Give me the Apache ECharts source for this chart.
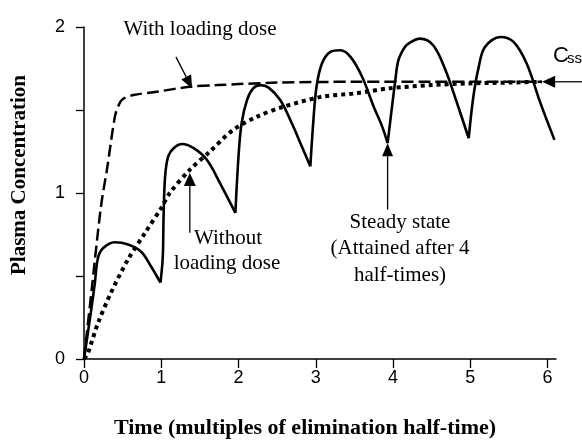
<!DOCTYPE html>
<html>
<head>
<meta charset="utf-8">
<script src="https://cdn.jsdelivr.net/npm/echarts@6/dist/echarts.min.js"></script>
<style>
html,body{margin:0;padding:0;background:#fff;}
#chart{width:582px;height:440px;}
</style>
</head>
<body>
<div id="chart"></div>
<script>
// ---- data ----
const xTicks = [0, 1, 2, 3, 4, 5, 6];
const yTicks = [0, 0.5, 1, 1.5, 2];
const yTickLabels = ['0', '', '1', '', '2'];

// Solid curve: without loading dose (dosing every half-time)
const solidX = [0, 0.087, 0.14, 0.18, 0.246, 0.40, 0.57, 0.74, 0.87, 0.99,
  1.02, 1.03, 1.05, 1.09, 1.16, 1.27, 1.42, 1.59, 1.76, 1.96,
  2.0, 2.04, 2.11, 2.19, 2.28, 2.39, 2.54, 2.69, 2.82, 2.93,
  2.97, 3.01, 3.08, 3.19, 3.32, 3.45, 3.60, 3.75, 3.86, 3.93,
  4.03, 4.07, 4.14, 4.20, 4.35, 4.52, 4.68, 4.83, 4.98,
  5.04, 5.11, 5.19, 5.39, 5.56, 5.73, 5.91, 6.09];
const solidY = [0, 0.275, 0.456, 0.607, 0.667, 0.703, 0.69, 0.646, 0.556, 0.46,
  0.616, 0.857, 1.10, 1.22, 1.27, 1.295, 1.27, 1.20, 1.06, 0.88,
  1.22, 1.42, 1.56, 1.63, 1.65, 1.635, 1.56, 1.42, 1.28, 1.16,
  1.44, 1.64, 1.78, 1.85, 1.86, 1.82, 1.70, 1.52, 1.40, 1.30,
  1.68, 1.80, 1.87, 1.90, 1.93, 1.89, 1.74, 1.54, 1.33,
  1.58, 1.76, 1.88, 1.94, 1.91, 1.78, 1.54, 1.32];
const solidTroughs = [9, 19, 29, 39, 48]; // indices where a new dose is given

// Dashed curve: with loading dose
const dashX = [0, 0.10, 0.22, 0.30, 0.40, 0.45, 0.50, 0.64, 0.94, 1.37, 1.72, 2.5, 3.5, 4.5, 5.93];
const dashY = [0, 0.42, 0.92, 1.15, 1.46, 1.53, 1.565, 1.59, 1.61, 1.64, 1.65, 1.665, 1.67, 1.67, 1.67];

// Dotted curve: average concentration without loading dose
const dotX = [0, 0.05, 0.18, 0.35, 0.57, 0.79, 1.0, 1.11, 1.37, 1.63, 1.93, 2.24, 2.55, 3.08, 3.51, 3.94, 4.5, 4.96, 5.5, 5.92];
const dotY = [0, 0.036, 0.215, 0.40, 0.60, 0.76, 0.91, 1.0, 1.14, 1.25, 1.38, 1.46, 1.515, 1.58, 1.60, 1.63, 1.65, 1.66, 1.665, 1.67];

// Annotation arrows (data coordinates, from -> to)
const arrowWith = [[1.19, 1.82], [1.40, 1.63]];
const arrowCss = [[6.45, 1.67], [5.93, 1.67]];
const arrowSteady = [[3.93, 0.90], [3.93, 1.30]];
const arrowWithout = [[1.37, 0.76], [1.37, 1.12]];

// ---- build series data ----
const solidData = [];
for (let i = 0; i < solidX.length; i++) {
  solidData.push([solidX[i], solidY[i]]);
  if (solidTroughs.indexOf(i) >= 0) {
    solidData.push([solidX[i], null]);
    solidData.push([solidX[i], solidY[i]]);
  }
}
const dashData = dashX.map((x, i) => [x, dashY[i]]);
const dotData = dotX.map((x, i) => [x, dotY[i]]);

const SERIF = '"Liberation Serif", "Times New Roman", serif';
const SANS = '"Liberation Sans", Arial, sans-serif';

const chart = echarts.init(document.getElementById('chart'), null, {renderer: 'canvas'});
chart.setOption({
  animation: false,
  backgroundColor: '#fff',
  grid: {left: 84, right: 26, top: 27, bottom: 81, containLabel: false, outerBoundsMode: 'none'},
  xAxis: {
    type: 'value', min: 0, max: 6.11,
    name: 'Time (multiples of elimination half-time)',
    nameLocation: 'middle', nameGap: 58,
    nameTextStyle: {fontFamily: SERIF, fontWeight: 'bold', fontSize: 22, color: '#000', padding: [0, 30, 0, 0]},
    axisLine: {show: true, onZero: false, lineStyle: {color: '#000', width: 1.5}},
    axisTick: {show: true, length: 9, customValues: xTicks, lineStyle: {color: '#000', width: 1.3}},
    axisLabel: {customValues: xTicks, margin: 10, fontFamily: SANS, fontSize: 18, color: '#000'},
    splitLine: {show: false}
  },
  yAxis: {
    type: 'value', min: 0, max: 2, interval: 0.5,
    name: 'Plasma Concentration',
    nameLocation: 'middle', nameGap: 54,
    nameTextStyle: {fontFamily: SERIF, fontWeight: 'bold', fontSize: 21, color: '#000', padding: [0, 0, 0, 36]},
    axisLine: {show: true, lineStyle: {color: '#000', width: 1.5}},
    axisTick: {show: true, length: 8, lineStyle: {color: '#000', width: 1.3}},
    axisLabel: {
      margin: 19, fontFamily: SANS, fontSize: 18, color: '#000',
      formatter: function (v) { const k = yTicks.indexOf(v); return k >= 0 ? yTickLabels[k] : ''; }
    },
    splitLine: {show: false}
  },
  series: [
    {type: 'line', name: 'With loading dose', data: dashData, showSymbol: false, smooth: 0.3,
     lineStyle: {color: '#000', width: 2.5, type: [12, 5]}},
    {type: 'line', name: 'Average', data: dotData, showSymbol: false, smooth: 0.3,
     lineStyle: {color: '#000', width: 4, type: [4, 4], cap: 'butt'}},
    {type: 'line', name: 'Without loading dose', data: solidData, showSymbol: false, smooth: 0.35,
     connectNulls: false, lineStyle: {color: '#000', width: 2.6}}
  ]
});

function arrowGraphics(pair, headLen, headW) {
  const p0 = chart.convertToPixel({gridIndex: 0}, pair[0]);
  const p1 = chart.convertToPixel({gridIndex: 0}, pair[1]);
  const dx = p1[0] - p0[0], dy = p1[1] - p0[1];
  const len = Math.sqrt(dx * dx + dy * dy);
  const ux = dx / len, uy = dy / len;
  const bx = p1[0] - ux * headLen, by = p1[1] - uy * headLen;
  const px = -uy * headW / 2, py = ux * headW / 2;
  return [
    {type: 'line', z: 100, shape: {x1: p0[0], y1: p0[1], x2: bx, y2: by}, style: {stroke: '#000', lineWidth: 1.3}},
    {type: 'polygon', z: 100, shape: {points: [[p1[0], p1[1]], [bx + px, by + py], [bx - px, by - py]]}, style: {fill: '#000'}}
  ];
}

function txt(text, x, y, font, size, align, extra) {
  return Object.assign({
    type: 'text', z: 100, x: x, y: y,
    style: {text: text, fontFamily: font, fontSize: size, fill: '#000', align: align || 'center', verticalAlign: 'middle'}
  }, extra || {});
}

const g = [];
[].concat(
  arrowGraphics(arrowWith, 13, 11),
  arrowGraphics(arrowCss, 13, 12),
  arrowGraphics(arrowSteady, 13, 11),
  arrowGraphics(arrowWithout, 13, 12)
).forEach(e => g.push(e));
g.push(txt('With loading dose', 200, 29, SERIF, 21));
g.push(txt('Steady state', 400, 222, SERIF, 21));
g.push(txt('(Attained after 4', 400, 248, SERIF, 21));
g.push(txt('half-times)', 400, 275, SERIF, 21));
g.push(txt('Without', 228, 238, SERIF, 21));
g.push(txt('loading dose', 227, 263, SERIF, 21));
g.push(txt('C', 553, 55.5, SANS, 22, 'left'));
g.push(txt('ss', 567, 59, SANS, 15, 'left'));
chart.setOption({graphic: g});
</script>
</body>
</html>
